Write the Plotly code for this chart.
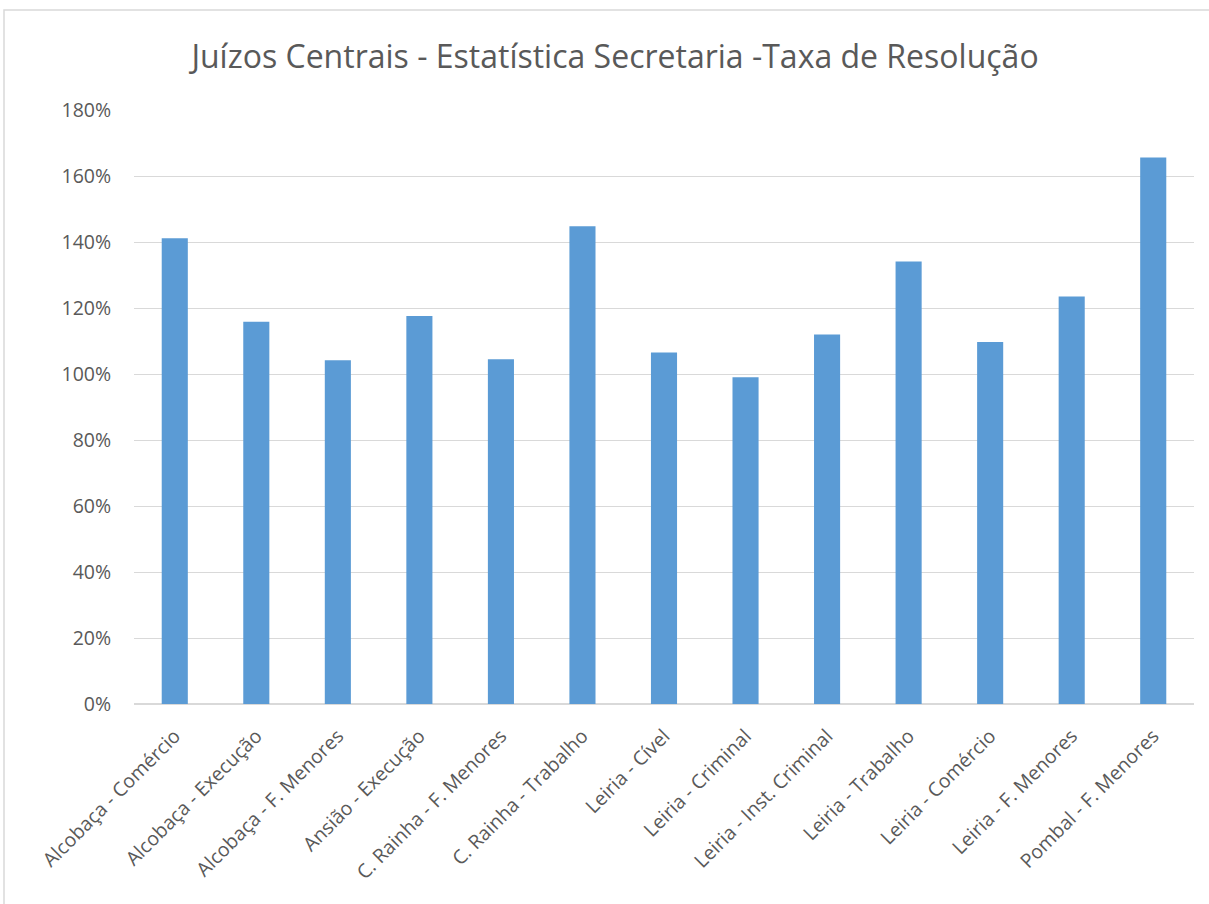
import plotly.graph_objects as go

categories = [
    "Alcobaça - Comércio", "Alcobaça - Execução", "Alcobaça - F. Menores",
    "Ansião - Execução", "C. Rainha - F. Menores", "C. Rainha - Trabalho",
    "Leiria - Cível", "Leiria - Criminal", "Leiria - Inst. Criminal",
    "Leiria - Trabalho", "Leiria - Comércio", "Leiria - F. Menores",
    "Pombal - F. Menores",
]
taxa = [1.411, 1.158, 1.042, 1.176, 1.045, 1.448, 1.065, 0.990, 1.120,
        1.341, 1.097, 1.235, 1.656]
y_ticks = [0, 0.2, 0.4, 0.6, 0.8, 1.0, 1.2, 1.4, 1.6, 1.8]
y_tick_labels = ["0%", "20%", "40%", "60%", "80%", "100%", "120%", "140%", "160%", "180%"]
title_text = "Juízos Centrais - Estatística Secretaria -Taxa de Resolução"

W, H = 1209, 904
L, T = 134, 110
pw, ph = 1060, 594
R = W - L - pw
B = H - T - ph

font_family = "Open Sans, Noto Sans, sans-serif"
grey = "#595959"

fig = go.Figure()
fig.add_trace(go.Bar(
    x=categories, y=taxa,
    marker=dict(color="#5b9bd5", line=dict(width=0)),
))

fig.update_layout(
    width=W, height=H,
    margin=dict(l=L, r=R, t=T, b=B, autoexpand=False),
    paper_bgcolor="white", plot_bgcolor="white",
    bargap=0.68,
    showlegend=False,
    title=dict(text=title_text, x=615 / W, xref="container", xanchor="center",
               y=1 - 57 / H, yref="container", yanchor="middle",
               font=dict(family=font_family, size=32, color=grey)),
    font=dict(family=font_family, color=grey),
)
fig.update_yaxes(
    range=[0, 1.8], tickvals=y_ticks, ticktext=y_tick_labels,
    showgrid=True, gridcolor="#d9d9d9", gridwidth=1.3,
    zeroline=True, zerolinecolor="#d9d9d9", zerolinewidth=1.5,
    showline=False,
    ticks="outside", ticklen=18, tickcolor="rgba(0,0,0,0)",
    tickfont=dict(family=font_family, size=19.5, color=grey),
)
fig.update_xaxes(
    tickangle=-45, showgrid=False, showline=False,
    ticks="outside", ticklen=12, tickcolor="rgba(0,0,0,0)",
    tickfont=dict(family=font_family, size=19.5, color=grey),
)
# outer chart border (left and top edges visible)
fig.add_shape(type="rect", xref="paper", yref="paper",
              x0=(4 - L) / pw, x1=(W + 10 - L) / pw,
              y0=-(B + 10) / ph, y1=(ph + T - 10) / ph,
              line=dict(color="#d9d9d9", width=1.5), fillcolor="rgba(0,0,0,0)",
              layer="below")

fig.write_html(
    "out.html",
    config={"displayModeBar": False},
    post_script=("document.documentElement.style.overflow='hidden';"
                 "document.body.style.margin='0';"
                 "document.body.style.overflow='hidden';"),
)
